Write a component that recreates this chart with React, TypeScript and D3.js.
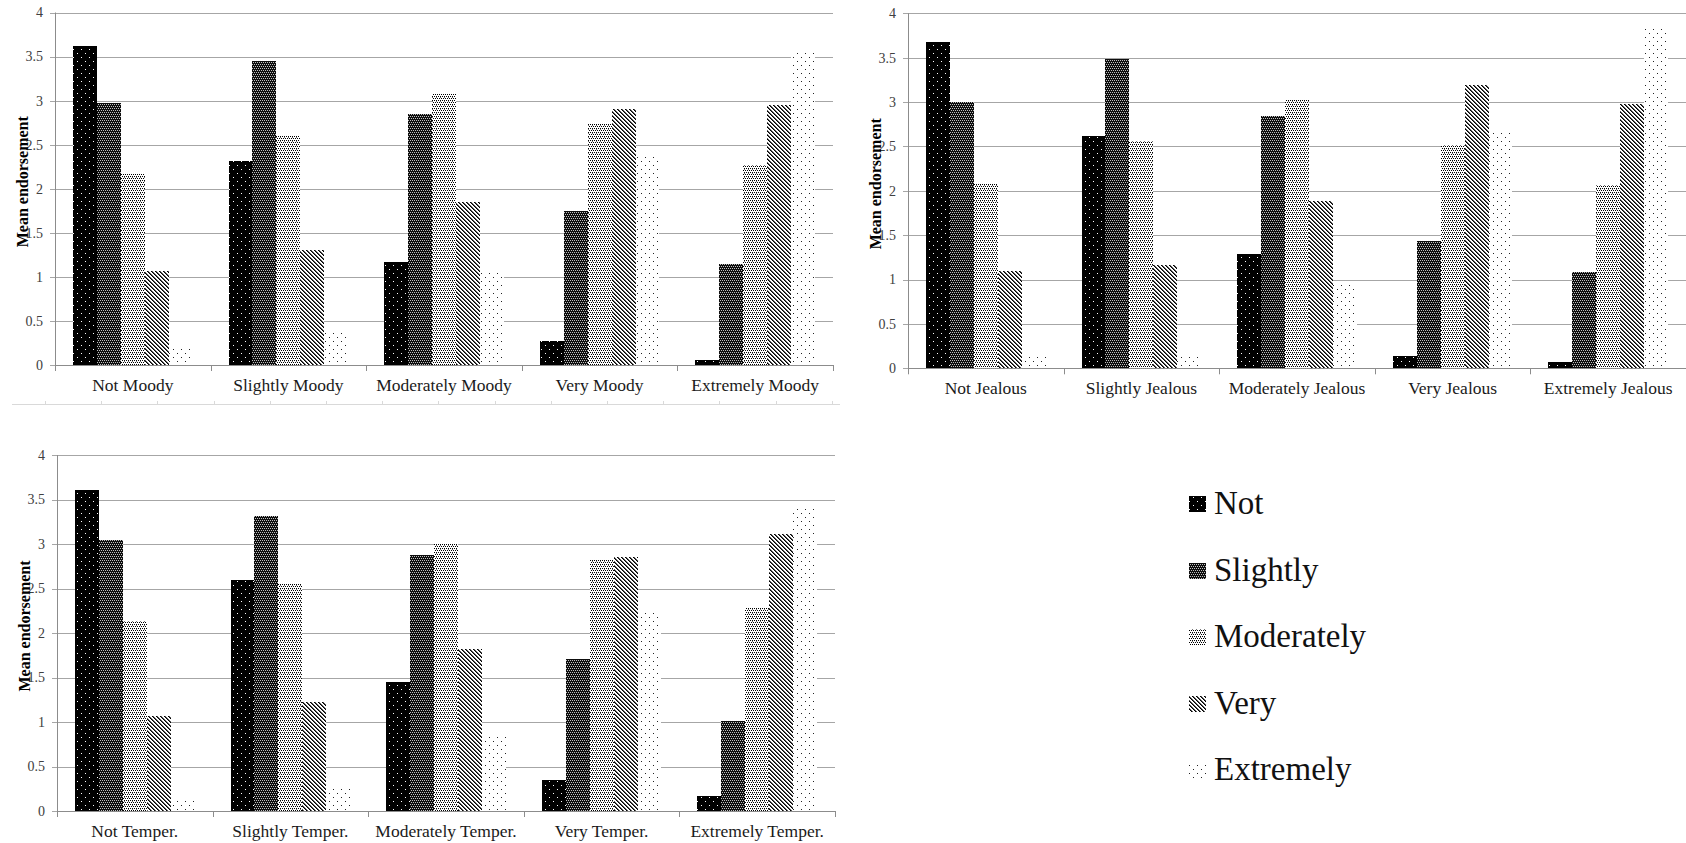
import React from "react";
import * as d3 from "d3";

// ---------- data ----------
const seriesNames = ["Not", "Slightly", "Moderately", "Very", "Extremely"];
const yTicks = [0, 0.5, 1, 1.5, 2, 2.5, 3, 3.5, 4];

const moodyCategories = ["Not Moody", "Slightly Moody", "Moderately Moody", "Very Moody", "Extremely Moody"];
const moodyNot = [3.62, 2.31, 1.17, 0.27, 0.06];
const moodySlightly = [2.97, 3.45, 2.85, 1.75, 1.15];
const moodyModerately = [2.17, 2.61, 3.07, 2.73, 2.27];
const moodyVery = [1.07, 1.31, 1.85, 2.9, 2.95];
const moodyExtremely = [0.21, 0.36, 1.05, 2.37, 3.58];

const jealousCategories = ["Not Jealous", "Slightly Jealous", "Moderately Jealous", "Very Jealous", "Extremely Jealous"];
const jealousNot = [3.68, 2.62, 1.29, 0.14, 0.075];
const jealousSlightly = [3.0, 3.49, 2.84, 1.44, 1.08];
const jealousModerately = [2.09, 2.56, 3.04, 2.52, 2.06];
const jealousVery = [1.1, 1.16, 1.88, 3.19, 2.98];
const jealousExtremely = [0.16, 0.16, 0.96, 2.69, 3.82];

const temperCategories = ["Not Temper.", "Slightly Temper.", "Moderately Temper.", "Very Temper.", "Extremely Temper."];
const temperNot = [3.61, 2.6, 1.45, 0.35, 0.17];
const temperSlightly = [3.05, 3.31, 2.88, 1.71, 1.01];
const temperModerately = [2.13, 2.56, 3.01, 2.83, 2.28];
const temperVery = [1.07, 1.23, 1.82, 2.85, 3.11];
const temperExtremely = [0.13, 0.27, 0.85, 2.23, 3.41];

const yTitle = "Mean endorsement";

// ---------- layout ----------
const W = 1686;
const H = 843;
const patternIds = ["pNot", "pSlightly", "pModerately", "pVery", "pExtremely"];

type PanelProps = {
  left: number;
  right: number;
  top: number;
  bottom: number;
  categories: string[];
  series: number[][];
};

const serif = '"Liberation Serif", "DejaVu Serif", serif';

function Panel({ left, right, top, bottom, categories, series }: PanelProps) {
  const y = d3.scaleLinear().domain([0, 4]).range([bottom, top]);
  const x0 = d3.scaleBand<string>().domain(categories).range([left, right]).padding(0);
  const x1 = d3
    .scaleBand<string>()
    .domain(seriesNames)
    .range([0, x0.bandwidth()])
    .paddingInner(0)
    .paddingOuter(0.75);
  const boundaries = [...categories.map((c) => x0(c) as number), right];
  return (
    <g>
      {yTicks.map((t) => (
        <line
          key={"g" + t}
          x1={left - 5}
          x2={right}
          y1={Math.round(y(t)) + 0.5}
          y2={Math.round(y(t)) + 0.5}
          stroke="#a6a6a6"
          strokeWidth={1}
        />
      ))}
      {yTicks.map((t) => (
        <text
          key={"t" + t}
          x={left - 12}
          y={y(t)}
          dy="0.35em"
          textAnchor="end"
          style={{ fontFamily: serif, fontSize: 14 }}
          fill="#404040"
        >
          {String(t)}
        </text>
      ))}
      <line x1={left + 0.5} x2={left + 0.5} y1={top} y2={bottom} stroke="#8c8c8c" />
      {categories.map((c, ci) =>
        seriesNames.map((s, si) => {
          const v = series[si][ci];
          const bx = (x0(c) as number) + (x1(s) as number);
          return (
            <rect
              key={c + s}
              x={bx}
              y={y(v)}
              width={x1.bandwidth()}
              height={bottom - y(v)}
              fill={`url(#${patternIds[si]})`}
              shapeRendering="crispEdges"
            />
          );
        })
      )}
      <line x1={left} x2={right} y1={Math.round(bottom) + 0.5} y2={Math.round(bottom) + 0.5} stroke="#8c8c8c" />
      {boundaries.map((bx, i) => (
        <line
          key={"xt" + i}
          x1={Math.round(bx) + 0.5}
          x2={Math.round(bx) + 0.5}
          y1={bottom}
          y2={bottom + 6}
          stroke="#8c8c8c"
        />
      ))}
      {categories.map((c) => (
        <text
          key={"xl" + c}
          x={(x0(c) as number) + x0.bandwidth() / 2}
          y={bottom + 26}
          textAnchor="middle"
          style={{ fontFamily: serif, fontSize: 17.5 }}
          fill="#1a1a1a"
        >
          {c}
        </text>
      ))}
      <text
        transform={`translate(${left - 27},${(top + bottom) / 2 - 7}) rotate(-90)`}
        textAnchor="middle"
        style={{ fontFamily: serif, fontSize: 16, fontWeight: "bold" }}
        fill="#000"
      >
        {yTitle}
      </text>
    </g>
  );
}

function Patterns() {
  return (
    <defs>
      <pattern id="pNot" width={8} height={8} patternUnits="userSpaceOnUse">
        <rect width={8} height={8} fill="#000" />
        <rect x={1} y={1} width={1} height={1} fill="#fff" />
        <rect x={5} y={5} width={1} height={1} fill="#fff" />
      </pattern>
      <pattern id="pSlightly" width={4} height={4} patternUnits="userSpaceOnUse">
        <rect width={4} height={4} fill="#0d0d0d" />
        <rect x={0} y={0} width={1} height={1} fill="#c0c0c0" />
        <rect x={2} y={0} width={1} height={1} fill="#c0c0c0" />
        <rect x={1} y={2} width={1} height={1} fill="#c0c0c0" />
        <rect x={3} y={2} width={1} height={1} fill="#c0c0c0" />
      </pattern>
      <pattern id="pModerately" width={4} height={4} patternUnits="userSpaceOnUse">
        <rect width={4} height={4} fill="#fff" />
        <rect x={0} y={0} width={1} height={1} fill="#000" />
        <rect x={2} y={0} width={1} height={1} fill="#000" />
        <rect x={1} y={2} width={1} height={1} fill="#000" />
        <rect x={3} y={2} width={1} height={1} fill="#000" />
        <rect x={0} y={1} width={1} height={1} fill="#777" />
      </pattern>
      <pattern id="pVery" width={4} height={4} patternUnits="userSpaceOnUse">
        <rect width={4} height={4} fill="#fff" />
        {[0, 1, 2, 3].map((i) => (
          <g key={i}>
            <rect x={i} y={i} width={1} height={1} fill="#000" />
            <rect x={(i + 1) % 4} y={i} width={1} height={1} fill="#555" />
          </g>
        ))}
      </pattern>
      <pattern id="pExtremely" width={8} height={8} patternUnits="userSpaceOnUse">
        <rect width={8} height={8} fill="#fff" />
        <rect x={1} y={1} width={1} height={1} fill="#222" />
        <rect x={5} y={5} width={1} height={1} fill="#222" />
      </pattern>
    </defs>
  );
}

export default function App() {
  const legendTop = 514;
  const legendStep = 66.5;
  const artifactTicks = d3.range(45, 840, 56.2);
  return (
    <svg
      width={W}
      height={H}
      viewBox={`0 0 ${W} ${H}`}
      style={{ position: "absolute", left: 0, top: 0, background: "#fff" }}
    >
      <Patterns />
      <rect width={W} height={H} fill="#fff" />
      {/* faint frame remnant below first panel */}
      <line x1={12} x2={840} y1={404.5} y2={404.5} stroke="#d9d9d9" />
      {artifactTicks.map((t, i) => (
        <line key={"a" + i} x1={Math.round(t) + 0.5} x2={Math.round(t) + 0.5} y1={401} y2={404} stroke="#d9d9d9" />
      ))}
      <Panel
        left={55}
        right={833}
        top={12.5}
        bottom={365}
        categories={moodyCategories}
        series={[moodyNot, moodySlightly, moodyModerately, moodyVery, moodyExtremely]}
      />
      <Panel
        left={908}
        right={1686}
        top={13.3}
        bottom={368.3}
        categories={jealousCategories}
        series={[jealousNot, jealousSlightly, jealousModerately, jealousVery, jealousExtremely]}
      />
      <Panel
        left={57}
        right={835}
        top={455}
        bottom={811}
        categories={temperCategories}
        series={[temperNot, temperSlightly, temperModerately, temperVery, temperExtremely]}
      />
      {seriesNames.map((s, i) => {
        const by = legendTop + i * legendStep;
        return (
          <g key={"lg" + s}>
            <rect
              x={1189}
              y={by - 18}
              width={17}
              height={16}
              fill={`url(#${patternIds[i]})`}
              shapeRendering="crispEdges"
            />
            <text x={1214} y={by} style={{ fontFamily: serif, fontSize: 33 }} fill="#111">
              {s}
            </text>
          </g>
        );
      })}
    </svg>
  );
}
